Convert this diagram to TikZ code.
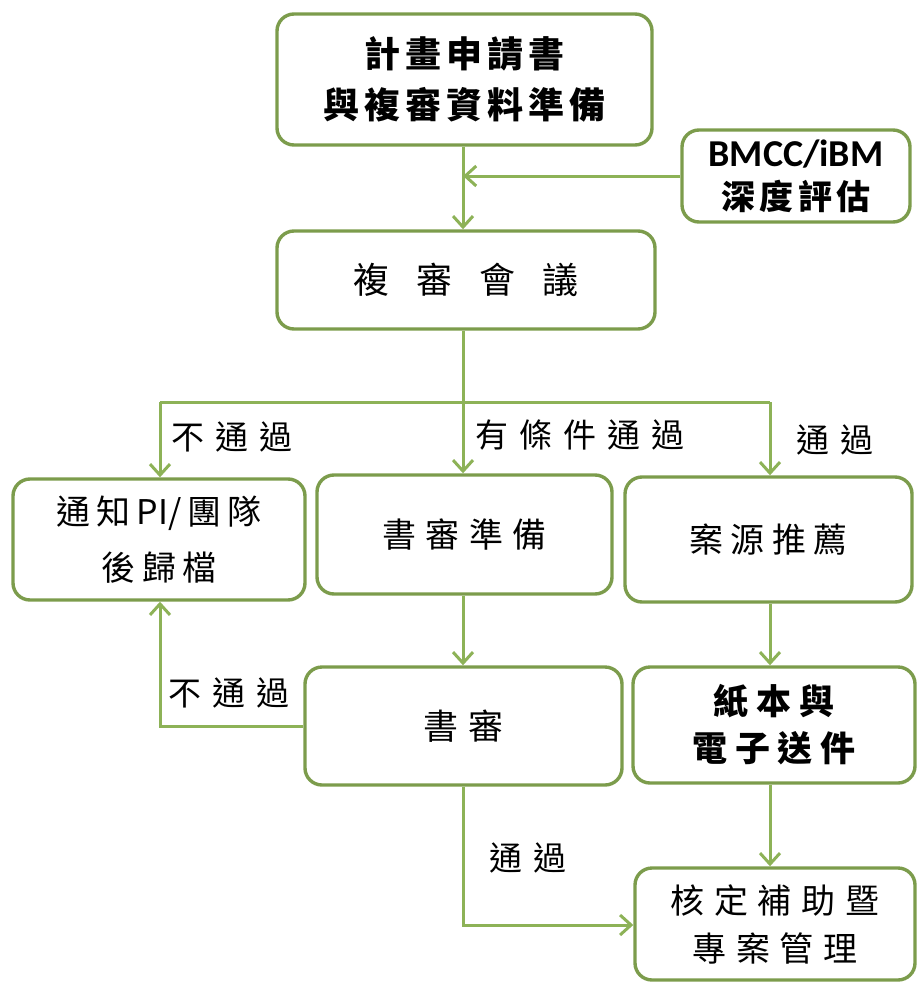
\documentclass[tikz,border=0pt]{standalone}
\usepackage{fontspec}
\setmainfont{Noto Sans CJK TC}
\newfontfamily\latinb{Carlito}
\usetikzlibrary{arrows.meta}
\definecolor{lcol}{HTML}{8DB257}
\definecolor{bcol}{HTML}{7C9C4C}
\newcommand\txt[3]{\fontsize{#1}{#2}\selectfont\addfontfeatures{LetterSpace=#3}}
\newcommand\nols[1]{{\addfontfeatures{LetterSpace=0}#1}}
\tikzset{
  box/.style={draw=bcol, line width=3.4pt, rounded corners=17pt, fill=white, align=center, inner sep=0pt},
  conn/.style={draw=lcol, line width=3pt, -{Straight Barb[length=11pt,width=20pt,line width=3pt]}},
  plain/.style={draw=lcol, line width=3pt},
  lbl/.style={inner sep=0pt, font=\txt{33}{38}{33}}
}
\begin{document}
\begin{tikzpicture}[x=1pt,y=-1pt]
\useasboundingbox (0,0) rectangle (916,982);
% boxes
\node[box, minimum width=375pt, minimum height=131pt, font=\txt{36}{51}{14}\bfseries] (top) at (464.5,79.5) {計畫申請書\\與複審資料準備};
\node[box, minimum width=228pt, minimum height=92pt, font=\fontsize{34}{43}\selectfont] (bmcc) at (796,176) {{\latinb\bfseries\fontsize{38}{43}\selectfont BMCC/iBM}\\{\addfontfeatures{LetterSpace=12}\bfseries 深度評估}};
\node[box, minimum width=378pt, minimum height=98pt, font=\txt{36}{40}{75}] (fs) at (466,280) {複審會議};
\node[box, minimum width=292pt, minimum height=121pt, font=\txt{34}{56}{20}] (notify) at (159,539.5) {通知\nols{\,PI/\,}團隊\\後歸檔};
\node[box, minimum width=295pt, minimum height=119pt, font=\txt{34}{40}{28}] (prep) at (464.5,534.5) {書審準備};
\node[box, minimum width=287pt, minimum height=125pt, font=\txt{34}{40}{22}] (rec) at (768.5,539.5) {案源推薦};
\node[box, minimum width=317pt, minimum height=118pt, font=\txt{35}{40}{26}] (review) at (463.5,726) {書審};
\node[box, minimum width=282pt, minimum height=116pt, font=\txt{35}{47}{22}\bfseries] (send) at (774,725) {紙本與\\電子送件};
\node[box, minimum width=280pt, minimum height=112pt, font=\txt{34}{48}{28}] (final) at (775,924) {核定補助暨\\專案管理};
% helper coordinates
\coordinate (trunk) at (463,402);
\coordinate (bl) at (160,402);
\coordinate (br) at (770,402);
\coordinate (fb) at (160,726);
\coordinate (pb) at (463,925);
% connectors
\draw[conn] (top.south -| trunk) -- (fs.north -| trunk);
\draw[conn] (bmcc.west) -- (bmcc.west -| trunk);
\draw[plain] (fs.south -| trunk) -- (trunk);
\draw[plain] (bl) -- (br);
\draw[conn] (bl) -- (notify.north -| bl);
\draw[conn] (trunk) -- (prep.north -| trunk);
\draw[conn] (br) -- (rec.north -| br);
\draw[conn] (prep.south -| trunk) -- (review.north -| trunk);
\draw[conn] (review.west |- fb) -- (fb) -- (notify.south -| fb);
\draw[conn] (review.south -| trunk) -- (pb) -- (final.west |- pb);
\draw[conn] (rec.south -| br) -- (send.north -| br);
\draw[conn] (send.south -| br) -- (final.north -| br);
% labels
\node[lbl] (l1) at (232,437) {不通過};
\node[lbl] (l2) at (580,435) {有條件通過};
\node[lbl] (l3) at (835,440) {通過};
\node[lbl] (l4) at (229,693) {不通過};
\node[lbl] (l5) at (528,858) {通過};
\end{tikzpicture}
\end{document}
